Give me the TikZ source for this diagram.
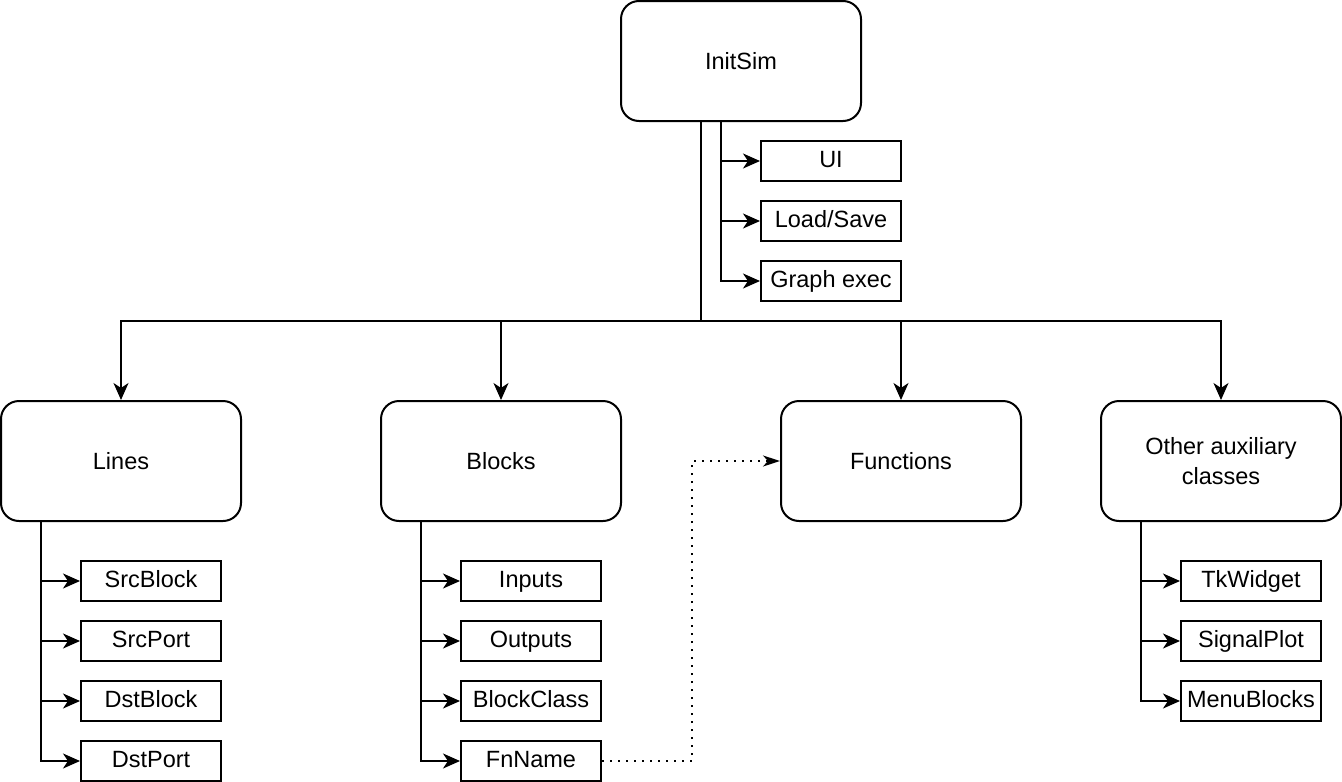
\documentclass[tikz,border=0pt]{standalone}
\usepackage{fontspec}
\setmainfont{Liberation Sans}
\usetikzlibrary{arrows.meta}
\begin{document}
\begin{tikzpicture}[x=1pt,y=-1pt,
  every node/.style={font=\fontsize{23.5}{30}\selectfont, align=center, inner sep=0pt},
  bigbox/.style={draw, line width=2pt, rounded corners=18pt, minimum width=240pt, minimum height=120pt},
  smallbox/.style={draw, line width=2pt, minimum width=140pt, minimum height=40pt, text height=17pt, text depth=5pt},
  arr/.style={line width=2pt, -{Stealth[length=17pt,width=15pt,inset=5pt]}},
  dotarr/.style={line width=2pt, dash pattern=on 2pt off 6pt, -{Stealth[length=17pt,width=11pt,inset=5pt]}},
  line join=miter]
\useasboundingbox (0,0) rectangle (1342,782);
% top
\node[bigbox] (init) at (741,61) {InitSim};
\node[smallbox] (ui) at (831,161) {UI};
\node[smallbox] (ls) at (831,221) {Load/Save};
\node[smallbox] (ge) at (831,281) {Graph exec};
% main classes
\node[bigbox] (lines) at (121,461) {Lines};
\node[bigbox] (blocks) at (501,461) {Blocks};
\node[bigbox] (func) at (901,461) {Functions};
\node[bigbox] (other) at (1221,461) {Other auxiliary\\classes};
% Lines children
\node[smallbox] (l1) at (151,581) {SrcBlock};
\node[smallbox] (l2) at (151,641) {SrcPort};
\node[smallbox] (l3) at (151,701) {DstBlock};
\node[smallbox] (l4) at (151,761) {DstPort};
% Blocks children
\node[smallbox] (b1) at (531,581) {Inputs};
\node[smallbox] (b2) at (531,641) {Outputs};
\node[smallbox] (b3) at (531,701) {BlockClass};
\node[smallbox] (b4) at (531,761) {FnName};
% Other children
\node[smallbox] (o1) at (1251,581) {TkWidget};
\node[smallbox] (o2) at (1251,641) {SignalPlot};
\node[smallbox] (o3) at (1251,701) {MenuBlocks};
% coordinates
\coordinate (itrunk) at (701,121);
\coordinate (bus) at (701,321);
\coordinate (ibr) at (721,121);
\coordinate (lt) at (41,521);
\coordinate (bt) at (421,521);
\coordinate (ot) at (1141,521);
% InitSim connectors
\draw[arr] (itrunk) -- (bus) -| (lines);
\draw[arr] (itrunk) -- (bus) -| (blocks);
\draw[arr] (itrunk) -- (bus) -| (func);
\draw[arr] (itrunk) -- (bus) -| (other);
\draw[arr] (ibr) |- (ui);
\draw[arr] (ibr) |- (ls);
\draw[arr] (ibr) |- (ge);
% children
\foreach \n in {l1,l2,l3,l4} \draw[arr] (lt) |- (\n);
\foreach \n in {b1,b2,b3,b4} \draw[arr] (bt) |- (\n);
\foreach \n in {o1,o2,o3} \draw[arr] (ot) |- (\n);
% dotted
\draw[dotarr] (b4.east) -- ++(90,0) |- (func.west);
\end{tikzpicture}
\end{document}
